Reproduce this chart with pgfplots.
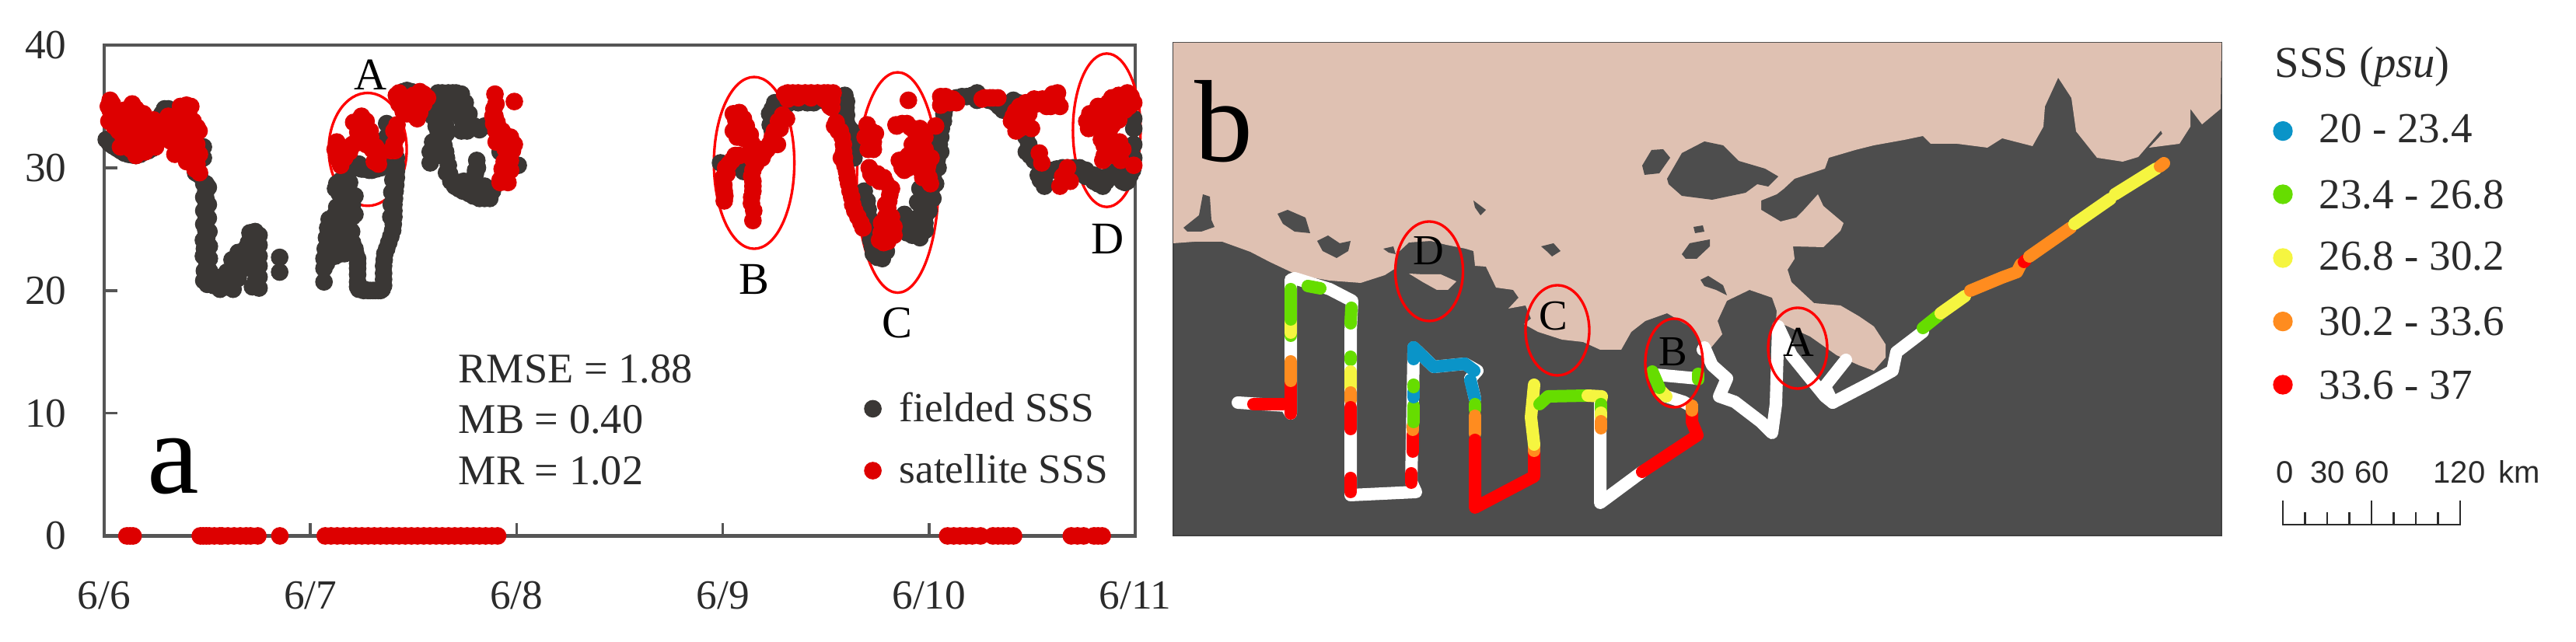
\documentclass[border=0pt]{standalone}
\usepackage{fontspec}
\setmainfont{Liberation Serif}
\setsansfont{Liberation Sans}
\usepackage{pgfplots}
\pgfplotsset{compat=1.18}
\definecolor{fdark}{HTML}{3A3735}
\definecolor{sred}{HTML}{DD0000}
\definecolor{axl}{HTML}{555555}
\definecolor{txt}{HTML}{2B2B2B}
\definecolor{sea}{HTML}{4D4D4D}
\definecolor{land}{HTML}{DFC1B2}
\definecolor{tblue}{HTML}{0A94C8}
\definecolor{tgreen}{HTML}{66DD00}
\definecolor{tyellow}{HTML}{F5F540}
\definecolor{torange}{HTML}{FF8C1F}
\definecolor{tred}{HTML}{FF0000}
\newcommand{\fs}[1]{\fontsize{#1}{#1}\selectfont}
\tikzset{track/.style={line width=4.8pt,line cap=round,line join=round,no marks}}
\begin{document}
\begin{tikzpicture}
\path (0,0) rectangle (993.9pt,247.8pt);
% ---------- panel a
\begin{axis}[
  at={(40.2pt,40.95pt)},anchor=south west,scale only axis,
  width=397.8pt,height=189.45pt,
  xmin=0,xmax=5,ymin=0,ymax=40,clip=false,
  xtick={0,1,2,3,4,5},xticklabels={6/6,6/7,6/8,6/9,6/10,6/11},
  ytick={0,10,20,30,40},
  tick pos=left,tick align=inside,major tick length=5pt,
  axis line style={color=axl,line width=1.4pt},
  tick style={color=axl,line width=1.1pt},
  /pgf/number format/assume math mode=true,
  tick label style={font=\fs{16},color=txt},
  yticklabel style={xshift=-11pt},
  xticklabel style={yshift=-14pt},
  legend style={at={(axis cs:3.685,11.75)},anchor=north west,draw=none,fill=none,
    font=\fs{16},row sep=11.2pt,inner sep=0pt,
    /tikz/every odd column/.append style={column sep=7pt},
    nodes={inner sep=0pt,text=txt}},
  legend cell align=left,
]
\addplot[only marks,mark=*,mark size=3.2pt,color=fdark,mark options={fill=fdark,draw=fdark}] coordinates {
(0.010,32.3)(0.041,31.8)(0.079,31.4)(0.117,31.1)(0.154,31.0)(0.198,31.3)(0.236,31.6)
(0.280,34.4)(0.293,34.8)(0.311,34.8)
(0.481,31.7)(0.481,30.8)(0.443,29.6)(0.462,29.4)
(0.493,28.7)(0.493,28.1)(0.493,27.5)(0.493,26.8)(0.493,26.2)(0.493,25.6)(0.493,24.9)
(0.497,24.3)(0.497,23.7)(0.497,23.0)(0.497,22.4)(0.497,21.8)(0.481,24.1)(0.481,22.8)
(0.493,21.1)(0.500,20.5)(0.531,20.4)(0.562,20.1)(0.594,20.3)(0.625,20.1)
(0.537,21.1)(0.575,21.1)(0.613,21.1)(0.631,21.8)(0.638,22.6)(0.650,23.1)
(0.675,21.8)(0.669,23.0)(0.700,23.9)(0.707,24.7)(0.732,24.8)(0.751,24.5)
(0.751,23.7)(0.751,22.8)(0.751,22.0)(0.751,21.1)(0.751,20.2)(0.719,20.3)
(0.713,22.8)(0.713,21.8)(0.688,22.2)
(0.851,22.7)(0.851,21.5)
(0.025,32.0)(0.060,31.6)(0.098,31.2)(0.135,31.05)(0.175,31.1)(0.215,31.4)
(0.505,28.4)(0.505,27.0)(0.505,25.9)(0.508,24.8)(0.510,23.6)(0.510,22.6)(0.510,21.6)
(0.483,28.7)(0.483,27.6)(0.483,26.5)(0.483,25.4)(0.486,23.4)(0.486,21.6)(0.483,20.8)
(0.515,20.6)(0.548,20.5)(0.578,20.6)(0.610,20.5)(0.520,21.2)(0.555,21.0)(0.595,21.5)
(0.620,22.5)(0.640,21.5)(0.660,21.8)(0.680,23.0)(0.690,23.5)(0.700,22.9)(0.720,23.8)
(0.730,22.8)(0.735,21.8)(0.735,20.8)(0.660,22.5)(0.650,21.0)
(1.066,20.7)(1.066,21.8)(1.066,22.6)(1.072,23.4)(1.078,24.3)(1.084,25.1)(1.091,25.8)
(1.128,26.8)(1.154,27.5)(1.091,23.9)(1.128,23.4)(1.166,23.0)(1.204,23.9)(1.216,23.4)
(1.166,24.3)(1.128,25.1)(1.166,25.6)(1.204,26.0)(1.216,26.2)(1.204,27.0)(1.216,27.7)
(1.185,28.3)(1.128,28.7)(1.122,28.3)(1.140,27.9)(1.154,26.6)
(1.078,22.2)(1.090,22.8)(1.100,23.4)(1.110,24.5)(1.145,24.5)(1.190,25.0)(1.140,26.0)
(1.180,26.8)(1.165,28.0)(1.150,28.8)(1.190,27.5)(1.200,24.8)(1.150,23.0)(1.120,22.8)
(1.100,24.8)(1.120,26.2)
(1.229,22.6)(1.229,21.8)(1.229,20.7)(1.235,20.1)(1.258,20.0)(1.279,20.0)(1.304,20.0)(1.329,20.0)(1.348,20.1)
(1.355,20.9)(1.355,22.0)(1.361,23.0)(1.380,23.9)(1.399,24.9)(1.405,26.0)(1.405,27.0)
(1.411,28.1)(1.417,29.2)(1.417,30.2)(1.417,30.8)
(1.229,22.2)(1.229,21.3)(1.229,20.3)(1.260,20.1)(1.290,20.0)(1.315,20.0)(1.340,20.0)
(1.355,20.4)(1.355,21.4)(1.358,22.5)(1.370,23.4)(1.390,24.4)(1.402,25.4)(1.405,26.5)
(1.408,27.5)(1.414,28.6)(1.417,29.7)(1.220,23.0)(1.390,26.0)(1.392,27.0)(1.395,28.0)(1.400,29.0)
(1.179,29.6)(1.235,30.3)(1.248,29.9)(1.298,29.8)(1.342,30.0)(1.270,30.0)(1.210,30.0)
(1.150,29.0)(1.200,29.9)(1.225,30.0)(1.260,29.9)(1.285,29.8)(1.320,29.9)(1.355,30.2)
(1.380,30.8)(1.170,29.2)(1.190,28.8)
(1.370,33.6)(1.370,32.5)
(1.468,36.3)(1.505,36.1)(1.619,36.1)(1.669,36.1)(1.707,36.1)(1.732,36.0)(1.751,35.3)
(1.769,34.4)(1.795,33.4)(1.820,33.1)(1.845,33.4)(1.606,35.1)(1.593,34.2)(1.644,35.1)
(1.669,34.4)(1.656,33.4)(1.644,32.3)(1.656,31.3)(1.669,30.2)(1.681,28.9)(1.719,28.3)
(1.769,27.9)(1.820,27.5)(1.870,27.5)(1.883,28.1)(1.845,28.5)(1.807,30.6)(1.801,29.8)
(1.795,29.2)(1.744,28.9)(1.732,34.0)(1.732,33.0)(1.700,35.0)
(1.450,36.2)(1.490,36.2)(1.550,35.5)(1.590,35.5)(1.640,36.1)(1.690,36.1)(1.630,34.0)
(1.610,33.4)(1.620,35.5)(1.680,35.4)(1.710,35.5)(1.720,34.6)(1.740,33.7)(1.760,33.0)
(1.780,33.3)(1.660,32.8)(1.648,31.8)(1.660,30.8)(1.660,29.6)(1.675,29.5)(1.700,28.5)
(1.740,28.1)(1.790,27.7)(1.845,27.5)(1.650,33.9)(1.630,31.0)
(1.810,30.0)(1.800,29.5)(1.770,28.6)(1.720,28.8)(1.820,28.3)(1.860,28.0)(1.600,31.6)
(1.581,30.4)(1.581,31.3)(1.593,32.1)(1.619,33.0)
(2.008,30.2)(1.920,31.3)
(2.989,30.4)(3.102,30.0)(3.100,29.7)(3.227,34.4)(3.252,35.3)(3.250,34.0)(3.240,33.0)
(3.315,35.2)(3.366,35.3)(3.441,35.3)(3.516,35.7)(3.592,35.9)(3.598,34.9)(3.598,33.8)
(3.642,32.7)(3.642,31.7)(3.636,30.8)(3.686,28.1)(3.695,27.2)(3.705,26.6)(3.710,25.3)
(3.718,24.1)(3.730,23.0)(3.774,22.6)(3.793,23.2)
(3.240,34.8)(3.230,33.5)(3.410,35.3)(3.480,35.5)(3.550,35.8)(3.600,35.4)(3.600,34.3)(3.610,33.3)(3.625,33.0)
(3.660,31.9)(3.700,27.3)(3.710,25.9)(3.715,24.7)(3.725,23.6)(3.750,22.7)(3.760,23.2)(3.790,23.7)
(3.881,26.2)(3.919,24.5)(3.956,24.3)(3.981,24.9)(3.893,24.7)(3.969,26.2)(3.981,27.5)
(3.956,28.3)(3.930,25.8)(3.900,25.5)
(3.880,24.9)(3.910,25.3)(3.940,25.4)(3.955,25.5)(3.945,27.2)(3.960,26.9)(3.985,26.2)
(3.860,25.3)(3.875,25.7)(3.980,25.5)(4.000,26.5)(3.990,27.8)(4.010,28.2)(4.020,29.2)
(3.969,27.5)(3.969,26.2)(3.969,24.9)(4.019,27.5)(4.032,28.7)(4.044,30.0)(4.057,31.3)
(4.057,32.5)(4.070,33.8)(4.076,34.8)(4.133,35.7)(4.183,35.8)(4.233,36.1)(4.233,35.5)
(4.040,30.7)(4.050,31.9)(4.060,33.2)(4.072,34.4)(4.100,35.4)(4.160,35.8)(4.210,35.9)(4.260,35.7)(4.290,35.5)
(4.321,35.3)(4.359,34.7)(4.409,35.5)(4.434,35.3)(4.484,31.9)(4.472,31.3)(4.510,30.6)
(4.340,35.0)(4.380,35.1)(4.470,32.5)(4.490,31.0)(4.530,29.4)(4.540,29.0)
(4.560,28.9)(4.560,28.5)(4.572,29.8)(4.648,30.0)(4.698,30.0)(4.761,29.8)(4.799,28.9)
(4.600,29.8)(4.620,29.9)(4.670,30.0)(4.730,30.0)(4.780,29.4)(4.820,28.7)(4.860,28.9)
(4.843,28.5)(4.874,29.4)(4.912,29.8)(4.937,28.9)(4.962,28.9)(4.987,29.8)(4.993,30.8)
(4.890,29.5)(4.925,29.4)(4.950,28.8)(4.975,29.4)(4.760,29.3)(4.800,29.4)(4.830,29.2)
(4.993,31.9)(4.993,33.2)(4.993,34.0)
};
\addlegendentry{fielded SSS}
\addplot[only marks,mark=*,mark size=3.2pt,color=sred,mark options={fill=sred,draw=sred}] coordinates {
(0.029,35.5)(0.029,34.7)(0.023,33.8)(0.048,33.4)(0.136,35.2)(0.154,34.8)(0.085,34.0)
(0.092,32.5)(0.079,31.7)(0.136,33.4)(0.154,31.0)(0.198,31.3)(0.120,32.0)(0.173,32.3)
(0.236,33.6)(0.249,31.7)(0.198,33.4)(0.311,34.2)(0.374,33.8)(0.399,35.1)(0.431,33.8)
(0.324,33.4)(0.343,31.1)(0.374,31.7)(0.337,32.3)(0.443,32.7)(0.449,31.9)(0.462,31.1)
(0.462,29.6)(0.431,30.6)(0.274,32.7)(0.250,33.0)(0.285,33.6)(0.060,34.5)(0.100,33.3)
(0.215,32.4)(0.160,33.5)(0.410,32.5)
(0.020,35.0)(0.040,35.2)(0.050,33.5)(0.070,33.0)(0.100,34.7)(0.120,34.0)(0.100,32.0)
(0.140,32.5)(0.130,31.5)(0.160,32.5)(0.180,33.5)(0.190,34.4)(0.170,34.0)(0.210,33.3)
(0.230,32.6)(0.220,31.7)(0.260,33.7)(0.290,33.7)(0.300,32.9)(0.320,32.2)(0.355,32.5)
(0.360,31.2)(0.350,33.0)(0.380,34.4)(0.380,32.7)(0.410,34.3)(0.420,35.0)(0.370,35.0)
(0.420,33.0)(0.420,31.5)(0.450,30.3)(0.440,31.2)(0.440,29.9)(0.460,33.0)(0.450,33.3)
(0.400,30.5)(0.410,31.3)(0.390,32.0)(0.240,33.9)(0.200,32.3)
(1.128,32.1)(1.128,30.8)(1.147,30.2)(1.166,30.8)(1.204,31.9)(1.248,34.2)(1.210,33.7)
(1.267,33.4)(1.292,32.5)(1.248,32.3)(1.329,30.8)(1.317,31.7)(1.405,31.9)(1.405,33.0)
(1.120,31.5)(1.140,31.5)(1.150,31.0)(1.180,31.5)(1.190,31.3)(1.220,32.0)(1.230,32.9)
(1.235,33.8)(1.250,33.6)(1.270,32.5)(1.290,33.0)(1.270,31.9)(1.300,31.5)(1.320,31.1)
(1.310,30.5)(1.330,30.3)(1.270,33.8)(1.390,31.4)(1.420,32.5)(1.410,31.4)(1.420,33.5)
(1.417,35.9)(1.455,35.1)(1.531,36.2)(1.568,35.7)(1.518,34.0)(1.468,34.4)(1.518,35.1)
(1.430,36.1)(1.440,35.5)(1.480,35.5)(1.500,35.9)(1.550,36.0)(1.550,35.2)(1.530,34.5)
(1.500,34.3)(1.480,34.8)(1.430,35.2)(1.450,34.6)
(1.895,36.0)(1.989,35.4)(1.895,34.2)(1.889,33.6)(1.920,32.5)(1.901,32.1)(1.989,31.9)
(1.958,31.1)(1.958,30.2)(1.933,29.4)(1.958,28.8)(1.971,29.8)(1.920,28.8)
(1.900,33.0)(1.905,33.7)(1.930,33.0)(1.950,32.2)(1.970,32.5)(1.980,31.4)(1.960,30.7)
(1.940,30.5)(1.930,29.9)(1.950,29.5)(1.970,30.6)(1.945,31.5)(1.920,29.0)(1.900,35.2)(1.890,34.8)(1.885,34.2)
(3.051,34.4)(3.064,33.8)(3.051,33.0)(3.114,33.4)(3.100,34.0)(3.133,32.7)(3.139,31.7)
(3.139,30.8)(3.146,29.8)(3.146,28.9)(3.146,28.1)(3.139,27.1)(3.146,25.7)
(3.060,34.2)(3.080,34.5)(3.100,33.0)(3.080,33.0)(3.070,32.5)(3.100,32.4)(3.120,32.3)
(3.140,32.0)(3.170,31.5)(3.170,30.8)(3.160,30.3)(3.140,29.3)(3.146,28.5)(3.140,27.6)
(3.150,26.5)(3.180,31.5)(3.200,31.2)(3.230,32.0)(3.240,32.5)(3.250,33.0)(3.270,33.8)
(3.290,34.3)(3.030,30.3)(3.020,29.5)(3.005,28.6)(3.010,27.7)(3.060,31.0)(3.080,31.0)(3.130,31.0)
(3.045,30.6)(3.014,30.0)(3.001,29.2)(3.007,28.1)(3.007,27.3)
(3.190,30.8)(3.215,31.5)(3.265,31.9)(3.278,33.2)(3.309,34.0)
(3.315,36.1)(3.366,36.1)(3.428,36.1)(3.491,36.1)(3.535,36.1)(3.529,34.9)(3.491,35.6)
(3.366,35.7)(3.315,35.6)(3.428,35.7)
(3.300,36.0)(3.340,36.1)(3.400,36.1)(3.460,36.1)(3.510,36.1)(3.530,35.5)(3.520,35.0)
(3.542,33.4)(3.579,32.5)(3.586,31.3)(3.592,30.2)(3.604,29.2)(3.617,28.1)(3.630,27.0)
(3.655,26.0)(3.680,25.1)(3.560,33.0)(3.575,30.8)
(3.550,33.7)(3.570,33.0)(3.585,31.9)(3.590,30.8)(3.600,29.7)(3.610,28.7)(3.625,27.6)(3.640,26.5)(3.670,25.5)
(3.718,33.0)(3.730,32.1)(3.705,31.5)(3.718,29.5)(3.780,29.2)(3.818,28.3)(3.805,27.3)
(3.818,26.0)(3.818,24.9)(3.780,23.9)(3.830,24.5)(3.768,24.7)(3.790,25.5)
(3.700,33.5)(3.720,32.6)(3.710,32.0)(3.740,32.8)(3.730,31.5)(3.690,32.5)(3.710,30.0)
(3.730,29.2)(3.750,29.5)(3.760,28.9)(3.790,28.8)(3.810,27.8)(3.800,26.7)(3.810,25.5)
(3.790,24.3)(3.760,24.1)(3.800,24.0)(3.810,26.0)(3.790,27.0)(3.790,26.0)(3.830,25.2)(3.770,25.5)
(3.900,35.5)(3.843,33.4)(3.893,33.6)(3.956,33.2)(3.919,31.9)(3.856,30.6)(3.931,30.8)
(3.981,31.5)(3.994,30.2)(4.007,28.7)(3.880,29.8)(3.957,33.0)(3.969,31.5)(3.969,30.2)(3.994,29.2)
(3.840,33.5)(3.870,33.6)(3.910,33.3)(3.930,33.0)(3.940,32.4)(3.920,31.4)(3.900,31.0)
(3.880,30.7)(3.870,30.0)(3.900,30.0)(3.920,30.2)(3.940,31.3)(3.960,31.5)(3.980,32.5)
(3.970,30.6)(3.960,29.8)(3.970,29.2)(3.990,29.8)(4.000,29.2)(4.010,30.8)
(4.032,33.4)(4.057,35.8)(4.057,35.1)(4.133,35.3)(4.090,35.6)(4.296,35.7)(4.334,35.7)(4.258,35.6)
(4.080,35.8)(4.100,35.3)(4.115,35.6)(4.270,35.7)(4.310,35.7)
(4.409,34.2)(4.422,33.0)(4.497,33.2)(4.484,34.4)(4.510,35.6)(4.585,35.7)(4.623,36.1)
(4.635,35.0)(4.570,35.0)(4.450,33.8)
(4.420,34.6)(4.440,35.0)(4.470,35.3)(4.520,35.2)(4.550,35.6)(4.600,36.0)(4.620,35.4)
(4.430,34.0)(4.440,33.2)(4.470,33.6)(4.400,33.8)(4.540,35.3)(4.590,35.0)
(4.535,31.2)(4.547,30.4)(4.648,29.3)(4.685,28.9)(4.635,28.5)(4.672,30.0)(4.650,29.0)(4.660,29.5)
(4.780,34.4)(4.774,33.2)(4.887,35.7)(4.962,36.1)(4.993,35.3)(4.899,34.4)(4.850,34.0)
(4.874,33.0)(4.836,32.3)(4.924,32.1)(4.912,31.3)(4.843,30.6)(4.930,35.6)(4.993,30.2)(4.870,31.8)
(4.800,34.2)(4.820,35.0)(4.850,35.0)(4.870,35.3)(4.920,35.9)(4.950,35.4)(4.980,35.8)
(4.900,35.0)(4.930,34.5)(4.950,34.7)(4.970,35.0)(4.870,34.2)(4.850,33.2)(4.860,32.7)
(4.880,32.3)(4.900,32.0)(4.900,31.0)(4.870,31.0)(4.850,31.8)(4.920,33.9)(4.890,33.5)
(4.940,31.5)(4.930,30.6)(4.850,31.0)(4.800,33.6)(4.765,33.8)
(0.110,0)(0.125,0)(0.140,0)
(0.466,0)(0.480,0)(0.495,0)(0.510,0)(0.534,0)(0.560,0)(0.572,0)(0.600,0)(0.630,0)(0.660,0)(0.688,0)(0.710,0)(0.745,0)
(0.852,0)
(1.072,0)(1.100,0)(1.130,0)(1.160,0)(1.190,0)(1.220,0)(1.250,0)(1.280,0)(1.310,0)(1.340,0)(1.370,0)(1.400,0)(1.430,0)
(1.460,0)(1.490,0)(1.520,0)(1.550,0)(1.580,0)(1.610,0)(1.640,0)(1.670,0)(1.700,0)(1.730,0)(1.760,0)(1.790,0)(1.820,0)(1.850,0)(1.880,0)(1.908,0)
(4.090,0)(4.120,0)(4.150,0)(4.180,0)(4.210,0)(4.250,0)
(4.310,0)(4.335,0)(4.360,0)(4.385,0)(4.410,0)
(4.690,0)(4.720,0)(4.750,0)(4.800,0)(4.820,0)(4.840,0)
};
\addlegendentry{satellite SSS}
\draw[tred,line width=1pt] (axis cs:1.278,31.5) ellipse [x radius=0.189,y radius=4.6];
\draw[tred,line width=1pt] (axis cs:3.152,30.4) ellipse [x radius=0.195,y radius=7.0];
\draw[tred,line width=1pt] (axis cs:3.848,28.8) ellipse [x radius=0.198,y radius=8.98];
\draw[tred,line width=1pt] (axis cs:4.862,33.06) ellipse [x radius=0.164,y radius=6.25];
\node[font=\fs{17.5},text=black,inner sep=0] at (axis cs:1.29,37.6) {A};
\node[font=\fs{17.5},text=black,inner sep=0] at (axis cs:3.152,20.9) {B};
\node[font=\fs{17.5},text=black,inner sep=0] at (axis cs:3.846,17.35) {C};
\node[font=\fs{17.5},text=black,inner sep=0] at (axis cs:4.868,24.2) {D};
\node[font=\fs{45},text=black,inner sep=0,anchor=base west] at (axis cs:0.207,3.46) {a};
\node[font=\fs{16.3},text=txt,inner sep=0,anchor=base west] at (axis cs:1.716,12.49) {RMSE = 1.88};
\node[font=\fs{16.3},text=txt,inner sep=0,anchor=base west] at (axis cs:1.716,8.34) {MB = 0.40};
\node[font=\fs{16.3},text=txt,inner sep=0,anchor=base west] at (axis cs:1.716,4.16) {MR = 1.02};
\end{axis}
% ---------- panel b
\begin{axis}[
  at={(452.7pt,41.1pt)},anchor=south west,scale only axis,
  width=404.4pt,height=190.2pt,
  xmin=1509,xmax=2857,ymin=55,ymax=689,y dir=reverse,
  xtick=\empty,ytick=\empty,
  axis background/.style={fill=sea},
  axis line style={color=black!75,line width=0.7pt},
]
\addplot[fill=land,draw=none] coordinates {
(1509,55)(1509,313)(1536,311)(1572,311)(1608,324)(1633,337)(1669,354)(1710,361)(1750,364)(1781,354)(1795,345)
(1798,325)(1812,312)(1840,310)(1860,315)(1885,320)(1895,323)(1897,342)(1911,343)(1924,370)(1946,373)(1953,383)
(1940,397)(1962,393)(1969,410)(1960,417)(1978,427)(2009,437)(2036,440)(2058,450)(2085,450)(2098,427)(2116,413)
(2144,403)(2173,420)(2190,443)(2200,448)(2215,430)(2209,413)(2221,387)(2250,373)(2279,383)(2285,400)(2284,413)
(2328,433)(2362,457)(2391,470)(2410,477)(2425,460)(2425,443)(2410,420)(2391,407)(2367,393)(2333,390)(2304,363)
(2299,347)(2308,333)(2306,317)(2345,318)(2367,297)(2371,287)(2345,265)(2338,250)(2320,270)(2310,280)(2290,285)
(2265,270)(2265,258)(2285,250)(2294,243)(2308,230)(2347,217)(2352,203)(2386,193)(2410,187)(2449,180)(2473,175)
(2483,185)(2517,185)(2556,190)(2575,178)(2614,188)(2628,163)(2630,137)(2647,100)(2664,126)(2670,169)(2697,203)
(2730,208)(2750,202)(2779,168)(2781,172)(2764,190)(2803,185)(2817,163)(2817,140)(2832,160)(2856,140)(2857,55)
} --cycle;
\addplot[fill=sea,draw=none] coordinates {(2144,230)(2163,197)(2192,182)(2216,187)(2236,207)(2270,217)(2287,227)(2274,240)(2260,237)(2245,248)(2202,257)(2163,252)(2146,237)} --cycle;
\addplot[fill=sea,draw=none] coordinates {(2112,213)(2124,193)(2139,192)(2148,203)(2134,223)(2115,225)} --cycle;
\addplot[fill=sea,draw=none] coordinates {(2163,327)(2173,313)(2199,308)(2199,317)(2182,333)(2168,333)} --cycle;
\addplot[fill=sea,draw=none] coordinates {(2178,292)(2190,290)(2192,298)(2180,300)} --cycle;
\addplot[fill=sea,draw=none] coordinates {(2187,360)(2197,355)(2216,367)(2221,380)(2207,373)(2192,368)} --cycle;
\addplot[fill=sea,draw=none] coordinates {(1522,293)(1542,277)(1547,250)(1556,253)(1558,283)(1562,292)(1545,298)(1527,298)} --cycle;
\addplot[fill=sea,draw=none] coordinates {(1643,275)(1656,270)(1679,280)(1685,300)(1665,298)(1650,288)} --cycle;
\addplot[fill=sea,draw=none] coordinates {(1694,310)(1708,303)(1723,313)(1737,310)(1734,323)(1719,332)(1701,323)} --cycle;
\addplot[fill=sea,draw=none] coordinates {(1779,320)(1792,317)(1795,327)(1786,325)} --cycle;
\addplot[fill=sea,draw=none] coordinates {(1895,258)(1911,270)(1904,277)(1897,267)} --cycle;
\addplot[fill=sea,draw=none] coordinates {(1982,317)(1998,313)(2007,323)(1996,330)(1989,323)} --cycle;
\addplot[fill=land,draw=none] coordinates {(1812,352)(1830,353)(1853,353)(1873,362)(1862,373)(1848,373)(1830,363)} --cycle;
% track: white base
\addplot[track,white] coordinates {(1592,518)(1654,522)(1660,532)(1660,360)(1665,358)(1710,372)(1739,387)(1737,427)(1737,637)(1821,633)(1815,620)(1818,453)(1818,447)(1844,472)(1884,468)(1900,477)(1891,487)(1897,513)};
\addplot[track,white] coordinates {(2058,510)(2058,647)(2112,607)};
\addplot[track,white] coordinates {(2176,523)(2165,517)(2143,510)};
\addplot[track,white] coordinates {(2129,482)(2183,487)};
\addplot[track,white] coordinates {(2190,450)(2192,447)(2202,470)(2221,487)(2211,510)(2231,517)(2265,543)(2279,557)(2284,520)(2287,420)(2304,457)(2347,510)(2357,518)(2347,497)(2374,463)};
\addplot[track,white] coordinates {(2357,518)(2405,493)(2434,477)(2439,453)(2473,427)};
% coloured pieces
\addplot[track,tred] coordinates {(1612,520)(1650,520)};
\addplot[track,tred] coordinates {(1660,532)(1660,490)};
\addplot[track,torange] coordinates {(1660,490)(1660,465)};
\addplot[track,tgreen] coordinates {(1660,432)(1660,428)};
\addplot[track,tyellow] coordinates {(1660,428)(1660,411)};
\addplot[track,tgreen] coordinates {(1660,411)(1660,372)};
\addplot[track,tgreen] coordinates {(1682,368)(1698,371)};
\addplot[track,tgreen] coordinates {(1738,396)(1737,416)};
\addplot[track,tgreen] coordinates {(1737,459)(1737,463)};
\addplot[track,tyellow] coordinates {(1737,478)(1737,498)};
\addplot[track,torange] coordinates {(1737,505)(1737,515)};
\addplot[track,tred] coordinates {(1737,524)(1737,552)};
\addplot[track,tred] coordinates {(1737,615)(1737,633)};
\addplot[track,tred] coordinates {(1815,609)(1815,621)};
\addplot[track,tred] coordinates {(1817,559)(1817,581)};
\addplot[track,torange] coordinates {(1817,548)(1817,553)};
\addplot[track,tgreen] coordinates {(1818,522)(1818,543)};
\addplot[track,tblue] coordinates {(1818,504)(1818,511)};
\addplot[track,tgreen] coordinates {(1818,495)(1818,498)};
\addplot[track,tblue] coordinates {(1818,447)(1818,462)};
\addplot[track,tblue] coordinates {(1818,447)(1844,472)(1884,468)(1896,477)};
\addplot[track,tblue] coordinates {(1891,489)(1897,513)};
\addplot[track,tgreen] coordinates {(1897,520)(1897,527)};
\addplot[track,torange] coordinates {(1897,535)(1897,558)};
\addplot[track,tred] coordinates {(1897,566)(1897,653)(1973,613)(1973,582)};
\addplot[track,torange] coordinates {(1973,580)(1973,574)};
\addplot[track,tyellow] coordinates {(1973,572)(1969,537)(1973,495)};
\addplot[track,tgreen] coordinates {(1980,520)(1991,510)(2040,509)};
\addplot[track,tyellow] coordinates {(2042,509)(2060,510)(2059,514)};
\addplot[track,tgreen] coordinates {(2059,520)(2059,527)};
\addplot[track,tyellow] coordinates {(2059,531)(2059,536)};
\addplot[track,torange] coordinates {(2059,542)(2059,551)};
\addplot[track,tred] coordinates {(2112,607)(2183,560)(2176,543)(2176,532)};
\addplot[track,torange] coordinates {(2176,528)(2176,522)};
\addplot[track,tyellow] coordinates {(2143,510)(2136,503)};
\addplot[track,tgreen] coordinates {(2134,499)(2125,478)};
\addplot[track,tgreen] coordinates {(2184,481)(2184,488)};
\addplot[track,tgreen] coordinates {(2473,422)(2493,406)};
\addplot[track,tyellow] coordinates {(2496,403)(2527,381)};
\addplot[track,torange] coordinates {(2534,374)(2575,357)(2594,350)(2599,340)};
\addplot[track,tred] coordinates {(2603,337)(2605,335)};
\addplot[track,torange] coordinates {(2610,330)(2663,293)};
\addplot[track,tyellow] coordinates {(2668,288)(2714,256)};
\addplot[track,tyellow] coordinates {(2720,250)(2773,217)};
\addplot[track,torange] coordinates {(2778,214)(2783,210)};
\draw[tred,line width=1pt] (axis cs:1838,349) ellipse [x radius=43.5,y radius=64];
\draw[tred,line width=1pt] (axis cs:2003,425) ellipse [x radius=41,y radius=58];
\draw[tred,line width=1pt] (axis cs:2153,467) ellipse [x radius=37,y radius=57];
\draw[tred,line width=1pt] (axis cs:2312,448) ellipse [x radius=38,y radius=52];
\node[font=\fs{16.5},text=black,inner sep=0] at (axis cs:1837,323) {D};
\node[font=\fs{16.5},text=black,inner sep=0] at (axis cs:1998,407) {C};
\node[font=\fs{16.5},text=black,inner sep=0] at (axis cs:2152,453) {B};
\node[font=\fs{16.5},text=black,inner sep=0] at (axis cs:2313,440) {A};
\node[font=\fs{45},text=black,inner sep=0,anchor=base west] at (axis cs:1536,208) {b};
\end{axis}
% ---------- key and scale bar
\begin{axis}[
  at={(866pt,0pt)},anchor=south west,scale only axis,
  width=127.9pt,height=247.8pt,
  xmin=2886.67,xmax=3313,ymin=0,ymax=826,y dir=reverse,
  hide axis,clip=false,
]
\node[font=\fs{17},text=txt,inner sep=0,anchor=base west] at (axis cs:2925,100) {SSS (\textit{psu})};
\addplot[only marks,mark=*,mark size=3.6pt,tblue] coordinates {(2936,168.6)};
\addplot[only marks,mark=*,mark size=3.6pt,tgreen] coordinates {(2936,250)};
\addplot[only marks,mark=*,mark size=3.6pt,tyellow] coordinates {(2936,332)};
\addplot[only marks,mark=*,mark size=3.6pt,torange] coordinates {(2936,413.6)};
\addplot[only marks,mark=*,mark size=3.6pt,tred] coordinates {(2936,495)};
\node[font=\fs{16.5},text=txt,inner sep=0,anchor=base west] at (axis cs:2982,184) {20 - 23.4};
\node[font=\fs{16.5},text=txt,inner sep=0,anchor=base west] at (axis cs:2982,269) {23.4 - 26.8};
\node[font=\fs{16.5},text=txt,inner sep=0,anchor=base west] at (axis cs:2982,348) {26.8 - 30.2};
\node[font=\fs{16.5},text=txt,inner sep=0,anchor=base west] at (axis cs:2982,432) {30.2 - 33.6};
\node[font=\fs{16.5},text=txt,inner sep=0,anchor=base west] at (axis cs:2982,514) {33.6 - 37};
\node[font=\fs{12}\sffamily,text=txt,inner sep=0,anchor=base west] at (axis cs:2927,622) {0};
\node[font=\fs{12}\sffamily,text=txt,inner sep=0,anchor=base west] at (axis cs:2971,622) {30};
\node[font=\fs{12}\sffamily,text=txt,inner sep=0,anchor=base west] at (axis cs:3028,622) {60};
\node[font=\fs{12}\sffamily,text=txt,inner sep=0,anchor=base west] at (axis cs:3129,622) {120};
\node[font=\fs{12}\sffamily,text=txt,inner sep=0,anchor=base west] at (axis cs:3213,622) {km};
\addplot[color=txt,line width=0.8pt,no marks,line join=miter] coordinates {(2936,644)(2936,675)(3164,675)(3164,644)};
\addplot[color=txt,line width=0.8pt,no marks] coordinates {(3050,644)(3050,675)};
\addplot[color=txt,line width=0.8pt,no marks] coordinates {(2964.5,659)(2964.5,675)};
\addplot[color=txt,line width=0.8pt,no marks] coordinates {(2993,659)(2993,675)};
\addplot[color=txt,line width=0.8pt,no marks] coordinates {(3021.5,659)(3021.5,675)};
\addplot[color=txt,line width=0.8pt,no marks] coordinates {(3078.5,659)(3078.5,675)};
\addplot[color=txt,line width=0.8pt,no marks] coordinates {(3107,659)(3107,675)};
\addplot[color=txt,line width=0.8pt,no marks] coordinates {(3135.5,659)(3135.5,675)};
\end{axis}
\end{tikzpicture}
\end{document}
